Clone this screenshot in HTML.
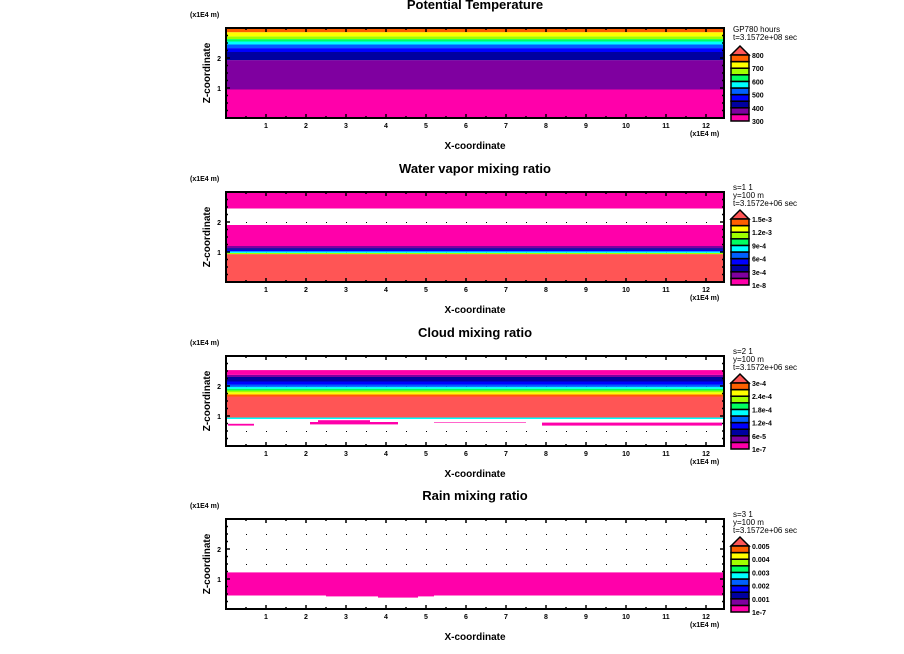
<!DOCTYPE html>
<html><head><meta charset="utf-8">
<style>
html,body{margin:0;padding:0;background:#fff;}
svg{display:block;font-family:"Liberation Sans",sans-serif;}
.t{font-weight:bold;font-size:13px;}
.s{font-weight:bold;font-size:7px;}
.l{font-size:8px;}
</style></head>
<body>
<svg id="fig" width="904" height="654" viewBox="0 0 904 654"></svg>
<script>
// ---- data ----
const panelTitles = ["Potential Temperature","Water vapor mixing ratio","Cloud mixing ratio","Rain mixing ratio"];
const panelTops = [28,192,356,519];
const legendLines = [["GP780 hours","t=3.1572e+08 sec"],["s=1 1","y=100 m","t=3.1572e+06 sec"],["s=2 1","y=100 m","t=3.1572e+06 sec"],["s=3 1","y=100 m","t=3.1572e+06 sec"]];
const cbLabels = [["800","700","600","500","400","300"],["1.5e-3","1.2e-3","9e-4","6e-4","3e-4","1e-8"],["3e-4","2.4e-4","1.8e-4","1.2e-4","6e-5","1e-7"],["0.005","0.004","0.003","0.002","0.001","1e-7"]];
const cbColors = ["#ff00aa","#7f00a0","#0000a0","#0000ff","#0060ff","#00ffff","#00ff60","#a0ff00","#ffff00","#ff6000"];
const xTicks = [1,2,3,4,5,6,7,8,9,10,11,12];
const zTicks = [1,2];
// bands: [zLow, zHigh, color]
const bands0 = [[0,0.95,"#ff00aa"],[0.95,1.93,"#7f00a0"],[1.93,2.2,"#0000a0"],[2.2,2.33,"#0000ff"],[2.33,2.45,"#0060ff"],[2.45,2.55,"#00ffff"],[2.55,2.63,"#00ff60"],[2.63,2.72,"#a0ff00"],[2.72,2.86,"#ffff00"],[2.86,3.0,"#ff6000"]];
const bands1 = [[0,0.93,"#ff5555"],[0.93,0.97,"#a0ff00"],[0.97,1.02,"#00ffff"],[1.02,1.07,"#0000ff"],[1.07,1.13,"#0000a0"],[1.13,1.2,"#7f00a0"],[1.2,1.9,"#ff00aa"],[2.45,3.0,"#ff00aa"]];
const bands2 = [[0.9,0.95,"#00ffff"],[0.95,1.65,"#ff5555"],[1.65,1.72,"#ff6000"],[1.72,1.79,"#ffff00"],[1.79,1.85,"#a0ff00"],[1.85,1.91,"#00ff60"],[1.91,1.97,"#00ffff"],[1.97,2.05,"#0060ff"],[2.05,2.15,"#0000ff"],[2.15,2.3,"#0000a0"],[2.3,2.37,"#7f00a0"],[2.37,2.53,"#ff00aa"]];
const patches2 = [[2.1,4.3,0.72,0.8],[2.3,3.6,0.8,0.86],[7.9,12.4,0.68,0.78],[0.05,0.7,0.68,0.74],[5.2,7.5,0.78,0.8]];
const bands3 = [[0.45,1.22,"#ff00aa"]];
const patches3 = [[3.8,4.8,0.38,0.45],[2.5,5.2,0.42,0.45]];
const allBands = [bands0,bands1,bands2,bands3];
const allPatches = [[],[],patches2,patches3];

const NS="http://www.w3.org/2000/svg";
const svg=document.getElementById('fig');
const X0=226, X1=724, XMAX=12.45, H=90, ZMAX=3;
function xs(x){return X0+x*(X1-X0)/XMAX;}
function mk(tag,attrs,parent){const e=document.createElementNS(NS,tag);for(const k in attrs)e.setAttribute(k,attrs[k]);(parent||svg).appendChild(e);return e;}
function txt(s,attrs,parent){const e=mk('text',attrs,parent);e.textContent=s;return e;}

panelTops.forEach((top,p)=>{
  const zs=z=>top+(ZMAX-z)*H/ZMAX;
  const g=mk('g',{});
  
  
  for(let x=0.5;x<XMAX;x+=0.5)for(let z=0.5;z<ZMAX;z+=0.5){
    mk('rect',{x:xs(x),y:zs(z),width:1,height:1,fill:'#000'},g);
  }
  allBands[p].forEach(b=>{
    const r=mk('rect',{x:X0,y:zs(b[1]),width:X1-X0,height:zs(b[0])-zs(b[1]),fill:b[2]},g);
    
    
  });
  allPatches[p].forEach(q=>{
    const r=mk('rect',{x:xs(q[0]),y:zs(q[3]),width:xs(q[1])-xs(q[0]),height:zs(q[2])-zs(q[3]),fill:'#ff00aa'},g);
    
    
  });
  const fr=mk('rect',{x:X0,y:top,width:X1-X0,height:H,fill:'none',stroke:'#000','stroke-width':2},g);
  
  
  for(let x=0.5;x<XMAX;x+=0.5){const L=(x%1===0)?4:2;
    mk('line',{x1:xs(x),x2:xs(x),y1:top+H,y2:top+H-L,stroke:'#000','stroke-width':1.5},g);
    mk('line',{x1:xs(x),x2:xs(x),y1:top,y2:top+L,stroke:'#000','stroke-width':1.5},g);}
  for(let z=0.25;z<ZMAX;z+=0.25){const L=(z%1===0)?4:2;
    mk('line',{x1:X0,x2:X0+L,y1:zs(z),y2:zs(z),stroke:'#000','stroke-width':1.5},g);
    mk('line',{x1:X1,x2:X1-L,y1:zs(z),y2:zs(z),stroke:'#000','stroke-width':1.5},g);}
  xTicks.forEach(x=>{const t=txt(String(x),{x:xs(x),y:top+H+10,'text-anchor':'middle',class:'s'},g);
    });
  zTicks.forEach(z=>{const t=txt(String(z),{x:X0-5,y:zs(z)+3,'text-anchor':'end',class:'s'},g);
    });
  const ti=txt(panelTitles[p],{x:475,y:top-19,'text-anchor':'middle',class:'t'},g);
  
  const u1=txt('(x1E4 m)',{x:190,y:top-11,class:'s'},g);
  
  const u2=txt('(x1E4 m)',{x:690,y:top+H+18,class:'s'},g);
  
  const xl=txt('X-coordinate',{x:475,y:top+H+31,'text-anchor':'middle',style:'font-weight:bold;font-size:10px'},g);
  
  const zl=txt('Z-coordinate',{x:0,y:0,'text-anchor':'middle',style:'font-weight:bold;font-size:10px',transform:'translate(210,'+(top+H/2)+') rotate(-90)'},g);
  
  const ll=legendLines[p];
  ll.forEach((s,i)=>{const t=txt(s,{x:733,y:top+4+i*8-(ll.length-2)*6,class:'l'},g);
    });
  const cbTop=top+27, cbBot=top+93, cx0=731, cx1=749, ch=(cbBot-cbTop)/10;
  const tri=mk('polygon',{points:cx0+','+cbTop+' '+cx1+','+cbTop+' '+((cx0+cx1)/2)+','+(cbTop-9),fill:'#ff5555',stroke:'#000','stroke-width':1.5},g);
  
  cbColors.forEach((c,i)=>{const r=mk('rect',{x:cx0,y:cbBot-(i+1)*ch,width:cx1-cx0,height:ch,fill:c,stroke:'#000','stroke-width':1.5},g);
    });
  cbLabels[p].forEach((s,i)=>{const t=txt(s,{x:752,y:cbTop+i*2*ch+3,class:'s'},g);
    });
});
</script>
</body></html>
